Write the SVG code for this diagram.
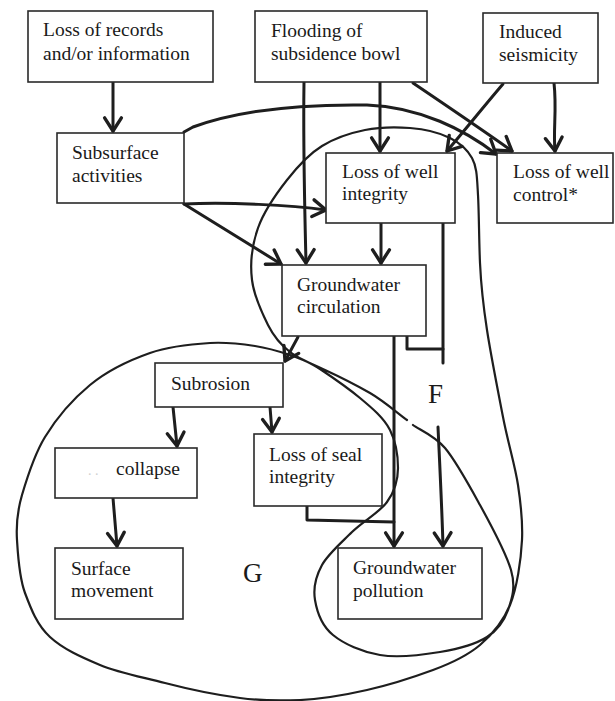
<svg xmlns="http://www.w3.org/2000/svg" width="615" height="701" viewBox="0 0 615 701">
<style>
.box{fill:#fff;stroke:#2a2a2a;stroke-width:1.6}
.t{font-family:"Liberation Serif","Times New Roman",serif;font-size:19.5px;fill:#1a1a1a}
.big{font-family:"Liberation Serif","Times New Roman",serif;font-size:27px;fill:#1a1a1a}
.arr{fill:none;stroke:#1e1e1e;stroke-width:3;stroke-linecap:round;stroke-linejoin:round}
.loop{fill:none;stroke:#1e1e1e;stroke-width:2.2;stroke-linecap:round}
</style>
<defs>
<marker id="ah" markerUnits="userSpaceOnUse" markerWidth="24" markerHeight="24" refX="0" refY="0" viewBox="-14 -10 16 20" orient="auto" overflow="visible">
<path d="M-11,-7 L0,0 L-11,7" fill="none" stroke="#1e1e1e" stroke-width="2.8" stroke-linecap="round" stroke-linejoin="round"/>
</marker>
</defs>
<rect width="615" height="701" fill="#fff"/>

<g id="loops">
<path class="loop" d="M413,425 C418,429 434,435 445,448 S469,485 480,505 S506,553 511,570 S512,599 508,610 S498,630 487,637 S458,649 440,652 S398,658 380,655 S344,644 333,635 S317,612 315,600 S316,576 322,565 S341,543 352,532 S379,513 387,502 S398,480 398,468 S396,442 390,430 S372,408 360,398 S332,377 320,369 S299,359 290,352 S274,337 268,325 S254,296 252,280 S252,245 258,228 S276,194 287,180 S309,154 322,146 S350,133 365,130 S396,127 410,128 S440,133 450,138 S467,149 472,158 S477,178 478,195 S479,241 480,263 S483,304 487,330 S498,391 503,417 S515,465 518,485 S523,520 522,540 S517,588 510,605 S493,634 480,645 S452,663 433,670 S389,685 367,690 S321,699 300,700 S263,701 240,698 S188,689 165,683 S119,673 100,665 S63,649 50,637 S31,609 25,593 S18,556 17,540 S17,512 22,495 S34,455 45,437 S73,399 90,385 S130,360 150,353 S193,344 210,343 S242,344 255,346 S278,351 290,355 S312,364 325,370 S356,385 370,393 S401,416 407,420"/>
</g>

<g id="connectors">
<path class="arr" d="M113,82 L113,131" marker-end="url(#ah)"/>
<path class="arr" d="M304,82 C303,150 305,220 306,263" marker-end="url(#ah)"/>
<path class="arr" d="M380,82 L380,151" marker-end="url(#ah)"/>
<path class="arr" d="M413,83 C450,108 487,133 512,151" marker-end="url(#ah)"/>
<path class="arr" d="M554,83 C557,110 553,130 555,151" marker-end="url(#ah)"/>
<path class="arr" d="M503,84 C485,105 465,130 447,151" marker-end="url(#ah)"/>
<path class="arr" d="M184,132 L193,127 C240,110 300,104 367,105 C420,107 465,130 496,154" marker-end="url(#ah)"/>
<path class="arr" d="M184,204 C230,202 290,205 326,210" marker-end="url(#ah)"/>
<path class="arr" d="M184,204 L281,264" marker-end="url(#ah)"/>
<path class="arr" d="M381,223 L381,263" marker-end="url(#ah)"/>
<path class="arr" d="M443,223 L443,363"/>
<path class="arr" d="M438,427 C440,470 442,510 443,546" marker-end="url(#ah)"/>
<path class="arr" d="M407,336 L407,349 L443,349"/>
<path class="arr" d="M298,337 L285,361" marker-end="url(#ah)"/>
<path class="arr" d="M394,336 L394,546" marker-end="url(#ah)"/>
<path class="arr" d="M307,506 L307,520 L394,522"/>
<path class="arr" d="M173,407 L177,446" marker-end="url(#ah)"/>
<path class="arr" d="M270,407 L272,432" marker-end="url(#ah)"/>
<path class="arr" d="M113,498 L117,546" marker-end="url(#ah)"/>
</g>

<g id="n-records"><rect class="box" x="28" y="11" width="185" height="71"/><text class="t" x="43" y="36">Loss of records</text><text class="t" x="43" y="60">and/or information</text></g>
<g id="n-flooding"><rect class="box" x="255" y="11" width="172" height="71"/><text class="t" x="271" y="37">Flooding of</text><text class="t" x="271" y="60">subsidence bowl</text></g>
<g id="n-seismicity"><rect class="box" x="483" y="13" width="115" height="70"/><text class="t" x="499" y="38">Induced</text><text class="t" x="499" y="61">seismicity</text></g>
<g id="n-subsurface"><rect class="box" x="57" y="133" width="127" height="70"/><text class="t" x="72" y="159">Subsurface</text><text class="t" x="72" y="182">activities</text></g>
<g id="n-wellintegrity"><rect class="box" x="326" y="153" width="129" height="70"/><text class="t" x="342" y="178">Loss of well</text><text class="t" x="342" y="200">integrity</text></g>
<g id="n-wellcontrol"><rect class="box" x="497" y="153" width="116" height="70"/><text class="t" x="513" y="178">Loss of well</text><text class="t" x="513" y="201">control*</text></g>
<g id="n-circulation"><rect class="box" x="282" y="265" width="144" height="71"/><text class="t" x="297" y="291">Groundwater</text><text class="t" x="297" y="313">circulation</text></g>
<g id="n-subrosion"><rect class="box" x="155" y="363" width="128" height="44"/><text class="t" x="171" y="390">Subrosion</text></g>
<g id="n-collapse"><rect class="box" x="55" y="448" width="142" height="50"/><text class="t" x="88" y="475" style="fill:#d0d0d0;font-size:14px">. .</text><text class="t" x="116" y="475">collapse</text></g>
<g id="n-seal"><rect class="box" x="254" y="434" width="128" height="72"/><text class="t" x="269" y="461">Loss of seal</text><text class="t" x="269" y="483">integrity</text></g>
<g id="n-surface"><rect class="box" x="55" y="548" width="128" height="71"/><text class="t" x="71" y="575">Surface</text><text class="t" x="71" y="597">movement</text></g>
<g id="n-pollution"><rect class="box" x="338" y="548" width="144" height="71"/><text class="t" x="353" y="574">Groundwater</text><text class="t" x="353" y="597">pollution</text></g>
<g id="labels"><text class="big" x="428" y="403">F</text><text class="big" x="243" y="582">G</text></g>
</svg>
